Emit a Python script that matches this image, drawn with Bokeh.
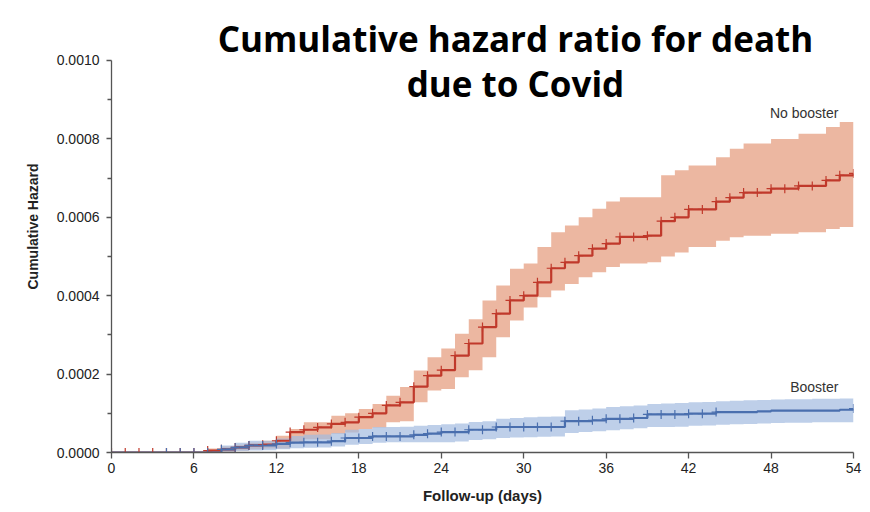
from bokeh.plotting import figure
from bokeh.models import Range1d, FixedTicker, Label, PrintfTickFormatter
from bokeh.embed import file_html
from bokeh.resources import INLINE

# ---- data ----
days = list(range(0, 55))

no_booster = [0, 0, 0, 0, 0, 0, 0, 0.000005, 0.000008, 0.000013,
              0.000018, 0.000020, 0.000030, 0.000052, 0.000058, 0.000064, 0.000073, 0.000077, 0.000090, 0.000100,
              0.000120, 0.000128, 0.000168, 0.000196, 0.000210, 0.000247, 0.000278, 0.000320, 0.000354, 0.000388,
              0.000400, 0.000434, 0.000470, 0.000485, 0.000502, 0.000520, 0.000533, 0.000550, 0.000550, 0.000553,
              0.000590, 0.000600, 0.000620, 0.000620, 0.000640, 0.000650, 0.000663, 0.000663, 0.000673, 0.000673,
              0.000680, 0.000680, 0.000694, 0.000707, 0.000712]
no_booster_upper = [0, 0, 0, 0, 0, 0, 0, 0.000010, 0.000015, 0.000020,
                    0.000025, 0.000030, 0.000043, 0.000060, 0.000077, 0.000077, 0.000094, 0.000100, 0.000111, 0.000124,
                    0.000145, 0.000167, 0.000209, 0.000243, 0.000265, 0.000303, 0.000340, 0.000388, 0.000426, 0.000469,
                    0.000482, 0.000524, 0.000562, 0.000579, 0.000600, 0.000622, 0.000640, 0.000651, 0.000651, 0.000651,
                    0.000707, 0.000720, 0.000732, 0.000732, 0.000753, 0.000775, 0.000788, 0.000788, 0.000800, 0.000800,
                    0.000813, 0.000813, 0.000830, 0.000843, 0.000843]
no_booster_lower = [0, 0, 0, 0, 0, 0, 0, 0, 0.000002, 0.000005,
                    0.000008, 0.000010, 0.000010, 0.000026, 0.000034, 0.000034, 0.000048, 0.000051, 0.000060, 0.000064,
                    0.000077, 0.000080, 0.000128, 0.000158, 0.000162, 0.000192, 0.000210, 0.000243, 0.000294, 0.000337,
                    0.000370, 0.000396, 0.000413, 0.000430, 0.000447, 0.000460, 0.000473, 0.000482, 0.000482, 0.000485,
                    0.000500, 0.000510, 0.000524, 0.000524, 0.000540, 0.000549, 0.000553, 0.000553, 0.000558, 0.000558,
                    0.000562, 0.000562, 0.000570, 0.000575, 0.000575]

booster = [0, 0, 0, 0, 0, 0, 0, 0, 0.000008, 0.000013,
           0.000018, 0.000018, 0.000022, 0.000025, 0.000026, 0.000026, 0.000029, 0.000037, 0.000037, 0.000041,
           0.000041, 0.000041, 0.000045, 0.000048, 0.000052, 0.000052, 0.000058, 0.000058, 0.000065, 0.000065,
           0.000065, 0.000065, 0.000065, 0.000080, 0.000080, 0.000082, 0.000086, 0.000086, 0.000088, 0.000097,
           0.000097, 0.000097, 0.000099, 0.000099, 0.000103, 0.000103, 0.000103, 0.000105, 0.000107, 0.000107,
           0.000107, 0.000107, 0.000107, 0.000109, 0.000112]
booster_upper = [0, 0, 0, 0, 0, 0, 0, 0.000005, 0.000018, 0.000025,
                 0.000030, 0.000030, 0.000036, 0.000042, 0.000045, 0.000046, 0.000050, 0.000058, 0.000060, 0.000065,
                 0.000065, 0.000066, 0.000068, 0.000070, 0.000072, 0.000074, 0.000078, 0.000080, 0.000086, 0.000088,
                 0.000090, 0.000091, 0.000092, 0.000108, 0.000110, 0.000112, 0.000116, 0.000118, 0.000120, 0.000124,
                 0.000125, 0.000126, 0.000128, 0.000129, 0.000131, 0.000132, 0.000133, 0.000134, 0.000135, 0.000136,
                 0.000136, 0.000137, 0.000137, 0.000138, 0.000138]
booster_lower = [0, 0, 0, 0, 0, 0, 0, 0, 0.000002, 0.000004,
                 0.000005, 0.000006, 0.000008, 0.000011, 0.000012, 0.000013, 0.000015, 0.000020, 0.000022, 0.000025,
                 0.000026, 0.000026, 0.000026, 0.000026, 0.000026, 0.000028, 0.000032, 0.000034, 0.000037, 0.000038,
                 0.000039, 0.000040, 0.000041, 0.000050, 0.000052, 0.000054, 0.000057, 0.000059, 0.000062, 0.000065,
                 0.000065, 0.000066, 0.000068, 0.000069, 0.000071, 0.000072, 0.000073, 0.000074, 0.000075, 0.000076,
                 0.000076, 0.000077, 0.000077, 0.000077, 0.000077]

red_censor_days = list(range(0, 55))
blue_censor_days = list(range(4, 45)) + [54]

x_ticks = [0, 6, 12, 18, 24, 30, 36, 42, 48, 54]
y_ticks = [0.0, 0.0002, 0.0004, 0.0006, 0.0008, 0.0010]
y_minor_ticks = [0.0001, 0.0003, 0.0005, 0.0007, 0.0009]

title_lines = ["Cumulative hazard ratio for death", "due to Covid"]
x_label = "Follow-up (days)"
y_label = "Cumulative Hazard"
series_names = ["No booster", "Booster"]

# ---- styles ----
RED = "#c0392b"
RED_BAND = "#ebb39c"
BLUE = "#4a6fae"
BLUE_BAND = "#a3bbe0"
TICK_FONT = "Liberation Sans Narrow, Liberation Sans, sans-serif"

# the frame reaches the top of the canvas so the title can sit over it;
# the y axis itself is bounded to the 0..0.0010 tick span
Y_TOP = 0.001153

p = figure(width=870, height=512, output_backend="svg", toolbar_location=None,
           x_range=Range1d(0, 54), y_range=Range1d(0, Y_TOP),
           min_border_left=111, min_border_right=17, min_border_top=0, min_border_bottom=60)
p.outline_line_color = None
p.xgrid.visible = False
p.ygrid.visible = False
p.background_fill_color = "white"
p.border_fill_color = "white"

# bands
p.varea_step(x=days, y1=no_booster_lower, y2=no_booster_upper, step_mode="after",
             fill_color=RED_BAND, fill_alpha=0.95)
p.varea_step(x=days, y1=booster_lower, y2=booster_upper, step_mode="after",
             fill_color=BLUE_BAND, fill_alpha=0.7)

# step lines
p.step(x=days, y=no_booster, mode="after", line_color=RED, line_width=2.2)
p.step(x=days, y=booster, mode="after", line_color=BLUE, line_width=2.2)

# censor marks
p.scatter(x=red_censor_days, y=[no_booster[d] for d in red_censor_days], marker="cross",
          size=9, line_color=RED, line_width=1.2)
p.scatter(x=blue_censor_days, y=[booster[d] for d in blue_censor_days], marker="cross",
          size=9, line_color=BLUE, line_width=1.2)

# axes
xa = p.xaxis[0]
xa.ticker = FixedTicker(ticks=x_ticks)
xa.axis_label = x_label
xa.axis_label_text_font = TICK_FONT
xa.axis_label_text_font_style = "bold"
xa.axis_label_text_font_size = "15px"
xa.axis_label_text_color = "#222222"
xa.axis_label_standoff = 11
xa.major_label_text_font = TICK_FONT
xa.major_label_text_font_size = "14px"
xa.major_label_text_color = "#222222"
xa.major_label_standoff = 4
xa.major_tick_out = 6
xa.major_tick_in = 0
xa.minor_tick_out = 0
xa.minor_tick_in = 0
xa.axis_line_color = "#555555"
xa.axis_line_width = 1.3
xa.major_tick_line_color = "#555555"
xa.major_tick_line_width = 1.3

ya = p.yaxis[0]
ya.bounds = (y_ticks[0], y_ticks[-1])
ya.ticker = FixedTicker(ticks=y_ticks, minor_ticks=y_minor_ticks)
ya.formatter = PrintfTickFormatter(format="%.4f")
ya.axis_label = y_label
ya.axis_label_text_font = TICK_FONT
ya.axis_label_text_font_style = "bold"
ya.axis_label_text_font_size = "14px"
ya.axis_label_text_color = "#222222"
ya.axis_label_standoff = 13
ya.major_label_text_font = TICK_FONT
ya.major_label_text_font_size = "14px"
ya.major_label_text_color = "#222222"
ya.major_label_standoff = 7
ya.major_tick_out = 5
ya.major_tick_in = 0
ya.minor_tick_out = 4
ya.minor_tick_in = 0
ya.axis_line_color = "#555555"
ya.axis_line_width = 1.3
ya.major_tick_line_color = "#555555"
ya.major_tick_line_width = 1.3
ya.minor_tick_line_color = "#555555"
ya.minor_tick_line_width = 1.3

# series labels
p.add_layout(Label(x=52.9, y=0.000865, text=series_names[0], text_align="right", text_baseline="middle",
                   text_font=TICK_FONT, text_font_size="14px", text_color="#333333"))
p.add_layout(Label(x=52.9, y=0.000168, text=series_names[1], text_align="right", text_baseline="middle",
                   text_font=TICK_FONT, text_font_size="14px", text_color="#333333"))

# title (two lines)
p.add_layout(Label(x=29.4, y=0.001056, text=title_lines[0], text_align="center", text_baseline="alphabetic",
                   text_font="Open Sans", text_font_style="bold", text_font_size="35px", text_color="#000000"))
p.add_layout(Label(x=29.4, y=0.000941, text=title_lines[1], text_align="center", text_baseline="alphabetic",
                   text_font="Open Sans", text_font_style="bold", text_font_size="35px", text_color="#000000"))

open("out.html", "w").write(file_html(p, INLINE))
